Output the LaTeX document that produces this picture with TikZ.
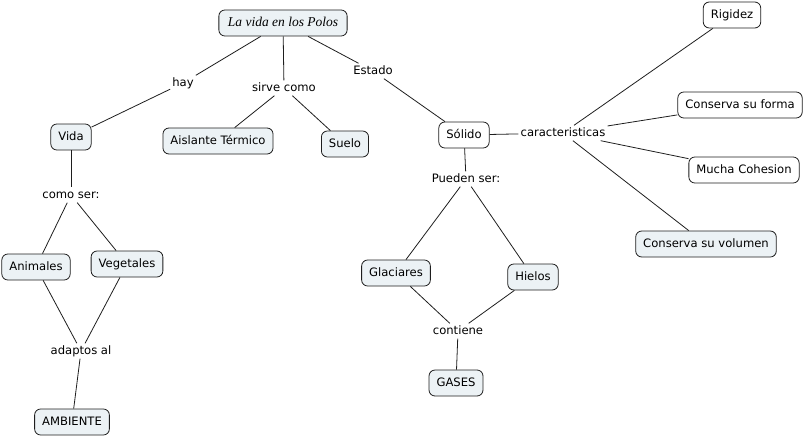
\documentclass[tikz,border=0pt]{standalone}
\usepackage{fontspec}
\setmainfont{DejaVu Sans}
\newfontfamily\polosfont{Liberation Serif}
\definecolor{conceptfill}{RGB}{236, 242, 245}
\definecolor{conceptline}{RGB}{30, 30, 30}
\usetikzlibrary{positioning}

\begin{document}
\begin{tikzpicture}[x=1pt, y=-1pt,
        font=\fontsize{11.6}{13}\selectfont,
        concept/.style={draw=conceptline, thick, rounded corners=6pt, fill=conceptfill,
            inner xsep=7.5pt, minimum height=26pt, text height=9pt, text depth=2pt},
        plainconcept/.style={concept, fill=white},
        linkword/.style={inner sep=2pt, text height=9pt, text depth=2pt},
        link/.style={draw=conceptline, line width=0.8pt}]
        \useasboundingbox (0,0) rectangle (808,436);

        % concepts
        \node[concept, inner xsep=9pt, font=\polosfont\itshape\fontsize{13.5}{15}\selectfont] (polos) at (283,23) {La vida en los Polos};
        \node[concept] (vida) at (71,137) {Vida};
        \node[concept] (aislante) at (218,141) {Aislante Térmico};
        \node[concept] (suelo) at (345,144) {Suelo};
        \node[plainconcept] (solido) at (464,135) {Sólido};
        \node[plainconcept] (rigidez) at (732,15) {Rigidez};
        \node[plainconcept] (forma) at (740,105) {Conserva su forma};
        \node[plainconcept] (cohesion) at (744,170) {Mucha Cohesion};
        \node[concept] (volumen) at (706,244) {Conserva su volumen};
        \node[concept] (animales) at (36,267) {Animales};
        \node[concept] (vegetales) at (127,264) {Vegetales};
        \node[concept] (ambiente) at (72,422) {AMBIENTE};
        \node[concept] (glaciares) at (396,273) {Glaciares};
        \node[concept] (hielos) at (533,277) {Hielos};
        \node[concept] (gases) at (456,383) {GASES};

        % linking words
        \node[linkword] (hay) at (183,83) {hay};
        \node[linkword] (sirve) at (284,88) {sirve como};
        \node[linkword] (estado) at (373,71) {Estado};
        \node[linkword] (comoser) at (71,195) {como ser:};
        \node[linkword] (adaptos) at (81,351) {adaptos al};
        \node[linkword] (caract) at (563,133) {caracteristicas};
        \node[linkword] (pueden) at (466,179) {Pueden ser:};
        \node[linkword] (contiene) at (458,331) {contiene};

        % connectors
        \draw[link] (polos) -- (hay) -- (vida);
        \draw[link] (polos) -- (sirve);
        \draw[link] (sirve) -- (aislante);
        \draw[link] (sirve) -- (suelo);
        \draw[link] (polos) -- (estado) -- (solido);
        \draw[link] (vida) -- (comoser);
        \draw[link] (comoser) -- (animales);
        \draw[link] (comoser) -- (vegetales);
        \draw[link] (animales) -- (adaptos);
        \draw[link] (vegetales) -- (adaptos);
        \draw[link] (adaptos) -- (ambiente);
        \draw[link] (solido) -- (caract);
        \draw[link] (caract) -- (rigidez);
        \draw[link] (caract) -- (forma);
        \draw[link] (caract) -- (cohesion);
        \draw[link] (caract) -- (volumen);
        \draw[link] (solido) -- (pueden);
        \draw[link] (pueden) -- (glaciares);
        \draw[link] (pueden) -- (hielos);
        \draw[link] (glaciares) -- (contiene);
        \draw[link] (hielos) -- (contiene);
        \draw[link] (contiene) -- (gases);
    \end{tikzpicture}
\end{document}
